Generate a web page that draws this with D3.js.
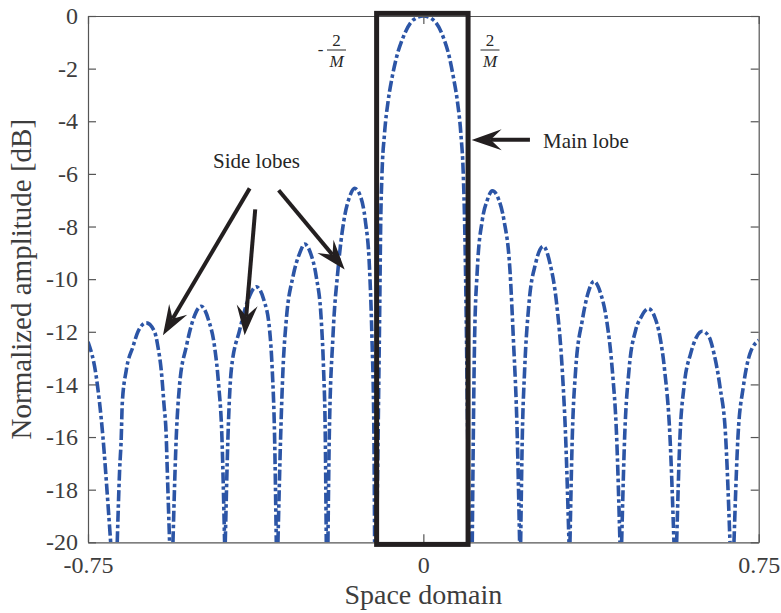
<!DOCTYPE html>
<html>
<head>
<meta charset="utf-8">
<script src="https://cdn.jsdelivr.net/npm/d3@7"></script>
<style>
  body { margin: 0; background: #fff; }
  svg { display: block; }
</style>
</head>
<body>
<script>
// Normalized beam pattern over the space domain, one [x, dB] list per lobe (left to right)
const lobeL5 = [[-0.750,-12.38],[-0.7315,-13.71],[-0.7166,-16.0],[-0.7054,-18.53],[-0.6993,-20]];
const lobeL4 = [[-0.6846,-20],[-0.6793,-17.26],[-0.6756,-16.0],[-0.6734,-14.73],[-0.6644,-13.46],[-0.6495,-12.57],[-0.6383,-12.0],[-0.6197,-11.66],[-0.6011,-12.0],[-0.5936,-12.57],[-0.5862,-13.46],[-0.5802,-14.73],[-0.5750,-16.0],[-0.5727,-17.26],[-0.5675,-20]];
const lobeL3 = [[-0.5600,-20],[-0.5526,-16.0],[-0.5451,-14.0],[-0.5302,-12.57],[-0.5153,-11.56],[-0.4967,-11.03],[-0.4803,-11.56],[-0.4669,-12.57],[-0.4579,-14.0],[-0.4505,-16.0],[-0.4445,-20]];
const lobeL2 = [[-0.4430,-20],[-0.4370,-16.0],[-0.4296,-13.46],[-0.4109,-11.94],[-0.3923,-10.80],[-0.3737,-10.29],[-0.3565,-10.80],[-0.3438,-11.94],[-0.3379,-13.46],[-0.3327,-16.0],[-0.3289,-20]];
const lobeL1 = [[-0.3252,-20],[-0.3192,-16.0],[-0.3140,-13.46],[-0.3066,-11.56],[-0.2917,-9.91],[-0.2767,-9.02],[-0.2656,-8.67],[-0.2521,-9.02],[-0.2395,-9.91],[-0.2283,-11.56],[-0.2231,-13.46],[-0.2193,-16.0],[-0.2171,-20]];
const lobeL0 = [[-0.2134,-20],[-0.2104,-16.0],[-0.2022,-12.19],[-0.1910,-9.66],[-0.1776,-7.76],[-0.1649,-6.87],[-0.1537,-6.55],[-0.1403,-6.87],[-0.1299,-7.76],[-0.1202,-9.66],[-0.1150,-12.19],[-0.1105,-16.0],[-0.1090,-20]];
const mainLobe = [[-0.1045,-20],[-0.1005,-15],[-0.0975,-11],[-0.0955,-8],[-0.0925,-6],[-0.0870,-4.5],[-0.0785,-3.2],[-0.0695,-2.3],[-0.0597,-1.55],[-0.0450,-0.8],[-0.0226,-0.15],[0.0,0],[0.0222,-0.15],[0.0445,-0.8],[0.0580,-1.55],[0.0669,-2.3],[0.0758,-3.2],[0.0840,-4.5],[0.0893,-6],[0.0925,-8],[0.0955,-11],[0.0985,-15],[0.1025,-20]];
const lobeR0 = [[0.1094,-20],[0.1117,-16.0],[0.1147,-12.19],[0.1206,-9.66],[0.1318,-7.76],[0.1430,-7.0],[0.1542,-6.64],[0.1691,-7.0],[0.1803,-7.76],[0.1937,-9.66],[0.2011,-12.19],[0.2101,-16.0],[0.2153,-20]];
const lobeR1 = [[0.2176,-20],[0.2213,-16.0],[0.2265,-13.46],[0.2362,-10.93],[0.2511,-9.40],[0.2682,-8.75],[0.2832,-9.40],[0.2981,-10.93],[0.3107,-13.46],[0.3182,-16.0],[0.3257,-20]];
const lobeR2 = [[0.3279,-20],[0.3331,-16.0],[0.3406,-13.46],[0.3555,-11.56],[0.3682,-10.54],[0.3816,-10.08],[0.3965,-10.54],[0.4099,-11.56],[0.4226,-13.46],[0.4323,-16.0],[0.4397,-20]];
const lobeR3 = [[0.4435,-20],[0.4502,-16.0],[0.4599,-13.46],[0.4748,-11.94],[0.4874,-11.43],[0.5031,-11.12],[0.5173,-11.43],[0.5292,-12.19],[0.5396,-13.46],[0.5516,-16.0],[0.5605,-20]];
const lobeR4 = [[0.5665,-20],[0.5739,-16.0],[0.5829,-14.09],[0.5978,-12.83],[0.6112,-12.19],[0.6239,-11.98],[0.6388,-12.19],[0.6500,-12.83],[0.6634,-14.09],[0.6761,-16.0],[0.6858,-20]];
const lobeR5 = [[0.6947,-20],[0.7036,-16.0],[0.7156,-14.09],[0.7305,-12.83],[0.7506,-12.32]];

const lobes = [lobeL5, lobeL4, lobeL3, lobeL2, lobeL1, lobeL0, mainLobe, lobeR0, lobeR1, lobeR2, lobeR3, lobeR4, lobeR5];

// Axis ticks
const xTickValues = [-0.75, 0, 0.75];
const xTickLabels = ["-0.75", "0", "0.75"];
const yTickValues = [0, -2, -4, -6, -8, -10, -12, -14, -16, -18, -20];
const yTickLabels = ["0", "-2", "-4", "-6", "-8", "-10", "-12", "-14", "-16", "-18", "-20"];

// Main-lobe frame (space-domain edges, dB extent)
const frameSpace = [-0.1045, 0.1];
const frameDb = [-20.08, 0.1];

// Annotation arrows: [tailX, tailDb, tipX, tipDb]
const sideLobeArrows = [
  [-0.3884, -6.55, -0.5824, -12.13],
  [-0.3760, -7.35, -0.3997, -12.13],
  [-0.3236, -6.62, -0.1760, -9.63]
];
const mainLobeArrow = [0.2384, -4.70, 0.1080, -4.71];

const W = 781, H = 613;
const plot = { left: 88, right: 758.7, top: 16, bottom: 542.3 };
const serif = "'Liberation Serif', 'Times New Roman', serif";
const textGray = "#3d3d3d";
const ink = "#231f20";

const svg = d3.select("body").append("svg")
  .attr("width", W).attr("height", H)
  .attr("viewBox", `0 0 ${W} ${H}`);

const x = d3.scaleLinear().domain([-0.75, 0.75]).range([plot.left, plot.right]);
const y = d3.scaleLinear().domain([-20, 0]).range([plot.bottom, plot.top]);

svg.append("defs").append("clipPath").attr("id", "plot-clip")
  .append("rect")
  .attr("x", plot.left).attr("y", plot.top)
  .attr("width", plot.right - plot.left).attr("height", plot.bottom - plot.top);

// Beam pattern, dash-dot
const line = d3.line()
  .x(d => x(d[0]))
  .y(d => y(d[1]))
  .curve(d3.curveMonotoneX);

svg.append("g").attr("clip-path", "url(#plot-clip)")
  .selectAll("path.lobe")
  .data(lobes)
  .join("path")
  .attr("class", "lobe")
  .attr("d", line)
  .attr("fill", "none")
  .attr("stroke", "#2c55a6")
  .attr("stroke-width", 3.6)
  .attr("stroke-dasharray", "11,3,3.5,3");

// Axes with inward ticks on all four sides
function styleAxis(g) {
  g.attr("font-family", serif).attr("font-size", 24);
  g.select(".domain").attr("stroke", "#555").attr("stroke-width", 1.2);
  g.selectAll(".tick line").attr("stroke", "#555").attr("stroke-width", 1.2);
  g.selectAll(".tick text").attr("fill", textGray);
}

svg.append("g")
  .attr("transform", `translate(0,${plot.bottom})`)
  .call(d3.axisBottom(x).tickValues(xTickValues)
    .tickFormat((d, i) => xTickLabels[i]).tickSize(-8).tickSizeOuter(0).tickPadding(14))
  .call(styleAxis);

svg.append("g")
  .attr("transform", `translate(0,${plot.top})`)
  .call(d3.axisTop(x).tickValues(xTickValues).tickFormat("").tickSize(-8).tickSizeOuter(0))
  .call(styleAxis);

svg.append("g")
  .attr("transform", `translate(${plot.left},0)`)
  .call(d3.axisLeft(y).tickValues(yTickValues)
    .tickFormat((d, i) => yTickLabels[i]).tickSize(-8).tickSizeOuter(0).tickPadding(10))
  .call(styleAxis);

svg.append("g")
  .attr("transform", `translate(${plot.right},0)`)
  .call(d3.axisRight(y).tickValues(yTickValues).tickFormat("").tickSize(-8).tickSizeOuter(0))
  .call(styleAxis);

// Axis titles
svg.append("text")
  .attr("x", (plot.left + plot.right) / 2).attr("y", 604)
  .attr("text-anchor", "middle")
  .attr("font-family", serif).attr("font-size", 28).attr("fill", textGray)
  .text("Space domain");

svg.append("text")
  .attr("transform", `translate(31,${(plot.top + plot.bottom) / 2}) rotate(-90)`)
  .attr("text-anchor", "middle")
  .attr("font-family", serif).attr("font-size", 29).attr("fill", textGray)
  .text("Normalized amplitude [dB]");

// Main-lobe frame
svg.append("rect")
  .attr("x", x(frameSpace[0])).attr("y", y(frameDb[1]))
  .attr("width", x(frameSpace[1]) - x(frameSpace[0]))
  .attr("height", y(frameDb[0]) - y(frameDb[1]))
  .attr("fill", "none").attr("stroke", ink).attr("stroke-width", 5);

// Arrows with swept-back heads
function drawArrow(a) {
  const x0 = x(a[0]), y0 = y(a[1]), x1 = x(a[2]), y1 = y(a[3]);
  const len = Math.hypot(x1 - x0, y1 - y0);
  const ux = (x1 - x0) / len, uy = (y1 - y0) / len;
  const nx = -uy, ny = ux;
  const L = 30, Wd = 10.5, N = 19;
  svg.append("line")
    .attr("x1", x0).attr("y1", y0)
    .attr("x2", x1 - N * ux).attr("y2", y1 - N * uy)
    .attr("stroke", ink).attr("stroke-width", 4);
  const pts = [
    [x1, y1],
    [x1 - L * ux + Wd * nx, y1 - L * uy + Wd * ny],
    [x1 - N * ux, y1 - N * uy],
    [x1 - L * ux - Wd * nx, y1 - L * uy - Wd * ny]
  ];
  svg.append("path")
    .attr("d", "M" + pts.map(p => p.join(",")).join("L") + "Z")
    .attr("fill", ink);
}
sideLobeArrows.forEach(drawArrow);
drawArrow(mainLobeArrow);

// Annotation labels
svg.append("text")
  .attr("x", 213).attr("y", 167.5)
  .attr("font-family", serif).attr("font-size", 21).attr("fill", "#262626")
  .text("Side lobes");

svg.append("text")
  .attr("x", 543).attr("y", 147.5)
  .attr("font-family", serif).attr("font-size", 21).attr("fill", "#262626")
  .text("Main lobe");

// Fraction labels ±2/M beside the frame
function fraction(cx, sign) {
  const g = svg.append("g").attr("font-family", serif).attr("font-size", 17).attr("fill", "#262626");
  const barY = 50;
  g.append("text").attr("x", cx).attr("y", barY - 4.5).attr("text-anchor", "middle").text("2");
  g.append("line").attr("x1", cx - 9.5).attr("x2", cx + 9.5).attr("y1", barY).attr("y2", barY)
    .attr("stroke", "#262626").attr("stroke-width", 1);
  g.append("text").attr("x", cx).attr("y", barY + 16.5).attr("text-anchor", "middle")
    .attr("font-style", "italic").text("M");
  if (sign) {
    g.append("text").attr("x", cx - 13).attr("y", barY + 5).attr("text-anchor", "end").text(sign);
  }
}
fraction(336.5, "-");
fraction(490, null);
</script>
</body>
</html>
